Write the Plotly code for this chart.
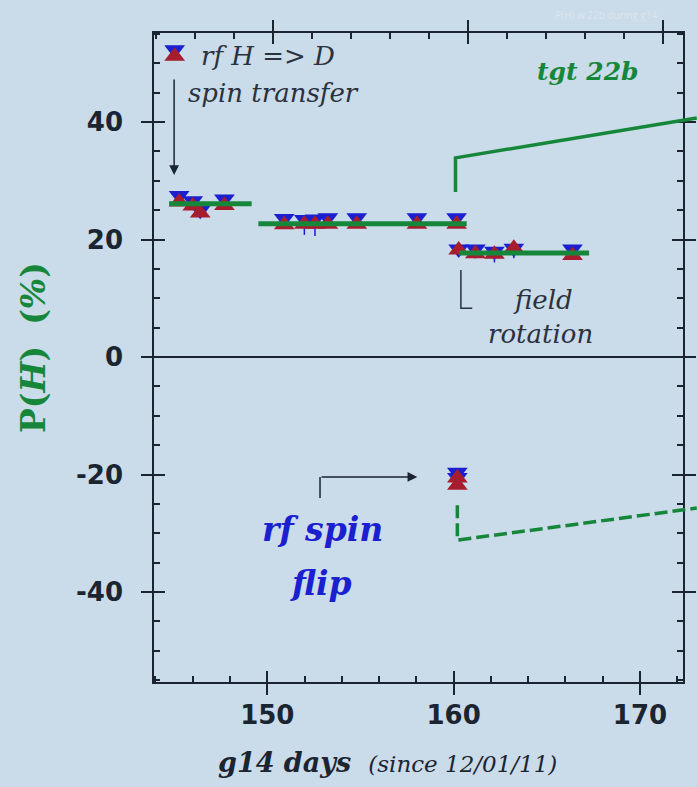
import plotly.graph_objects as go

# ---------------- data ----------------
days = [145.27, 146.00, 146.40, 147.70, 150.91, 151.99, 152.56, 153.25, 154.80,
        158.03, 160.16, 160.27, 161.17, 162.19, 163.23, 166.38, 160.20, 160.20]
p_red = [26.4, 25.7, 24.5, 25.8, 22.5, 22.6, 22.6, 22.6, 22.6,
         22.6, 22.6, 18.2, 17.6, 17.5, 18.5, 17.3, -20.6, -21.8]
p_blue = [27.5, 26.6, 25.0, 26.9, 23.6, 23.4, 23.5, 23.7, 23.7,
          23.7, 23.7, 18.4, 18.4, 18.0, 18.5, 18.4, -19.6, -20.5]
blue_err_minus = [0, 0, 0, 0, 0, 2.6, 2.9, 0, 0,
                  0, 0, 0, 1.6, 1.9, 1.7, 0, 0, 0]

# average levels (green)
mean_x0 = [144.73, 149.52, 160.30]
mean_x1 = [149.16, 160.70, 167.27]
mean_y = [26.1, 22.7, 17.7]

# legend sample symbol
legend_day = [145.03]
legend_red = [51.2]
legend_blue = [52.3]

# pointer lines to the next panel
ptr_solid_x = [160.1, 160.1, 173.05]
ptr_solid_y = [28.1, 33.9, 40.7]
ptr_dash_x = [160.2, 160.2, 173.05]
ptr_dash_y = [-25.2, -31.15, -25.7]

# annotation guide lines
field_bracket_x = [160.39, 160.39, 161.0]
field_bracket_y = [14.8, 8.3, 8.3]
flip_stem_x = [152.83, 152.83]
flip_stem_y = [-24.0, -20.4]

x_tickvals = [150, 160, 170]
x_ticktext = ["150", "160", "170"]
y_tickvals = [-40, -20, 0, 20, 40]
y_ticktext = ["-40", "-20", "0", "20", "40"]

X_RANGE = [143.92, 172.31]
Y_RANGE = [-55.3, 55.15]
TOP_RANGE = [-3.06, 10.51]

BG = "#cadbe9"
INK = "#1b2431"
GREY = "#2a323d"
GREEN = "#16873a"
RED = "#a61e2e"
BLUE = "#1a1fd0"
MSIZE = 18
SERIF = "DejaVu Serif"

fig = go.Figure()

# dummy traces so every decorative axis is drawn
for xa, ya in [("x2", "y"), ("x3", "y"), ("x4", "y"), ("x", "y2"), ("x", "y3"), ("x", "y4")]:
    fig.add_trace(go.Scatter(x=[None], y=[None], xaxis=xa, yaxis=ya,
                             showlegend=False, hoverinfo="skip"))

# blue markers (drawn first)
fig.add_trace(go.Scatter(
    x=days, y=p_blue, mode="markers",
    marker=dict(symbol="triangle-down", size=MSIZE, color=BLUE),
    error_y=dict(type="data", symmetric=False, array=[0] * len(days),
                 arrayminus=blue_err_minus, color=BLUE, thickness=1.5, width=0),
    showlegend=False))
# red markers
fig.add_trace(go.Scatter(
    x=days, y=p_red, mode="markers",
    marker=dict(symbol="triangle-up", size=MSIZE, color=RED),
    showlegend=False))

# legend sample
fig.add_trace(go.Scatter(x=legend_day, y=legend_blue, mode="markers",
                         marker=dict(symbol="triangle-down", size=MSIZE, color=BLUE),
                         showlegend=False))
fig.add_trace(go.Scatter(x=legend_day, y=legend_red, mode="markers",
                         marker=dict(symbol="triangle-up", size=MSIZE, color=RED),
                         showlegend=False))

# green average lines
for x0, x1, yv in zip(mean_x0, mean_x1, mean_y):
    fig.add_trace(go.Scatter(x=[x0, x1], y=[yv, yv], mode="lines",
                             line=dict(color=GREEN, width=5), showlegend=False))

# guide lines
fig.add_trace(go.Scatter(x=field_bracket_x, y=field_bracket_y, mode="lines",
                         line=dict(color=GREY, width=1.5), showlegend=False))
fig.add_trace(go.Scatter(x=flip_stem_x, y=flip_stem_y, mode="lines",
                         line=dict(color=INK, width=1.5), showlegend=False))


# pointer lines extend beyond the frame -> paper-referenced shapes
def fx(v):
    return (v - X_RANGE[0]) / (X_RANGE[1] - X_RANGE[0])


def fy(v):
    return (v - Y_RANGE[0]) / (Y_RANGE[1] - Y_RANGE[0])


def path(xs, ys):
    pts = [f"{fx(a):.5f},{fy(b):.5f}" for a, b in zip(xs, ys)]
    return "M" + " L".join(pts)


fig.add_shape(type="path", path=path(ptr_solid_x, ptr_solid_y), xref="paper", yref="paper",
              line=dict(color=GREEN, width=3.5))
fig.add_shape(type="path", path=path(ptr_dash_x, ptr_dash_y), xref="paper", yref="paper",
              line=dict(color=GREEN, width=3.5, dash="13px,5px"))

tickfont = dict(family="DejaVu Sans", size=26, color=INK, weight="bold")


def txt(x, y, text, size, color, xanchor="center", ref="x", **kw):
    fig.add_annotation(x=x, y=y, xref=ref, yref=("y" if ref == "x" else "paper"),
                       xanchor=xanchor, yanchor="middle", text=text, showarrow=False,
                       font=dict(family=SERIF, size=size, color=color), **kw)


txt(146.33, 51.3, "<i>rf H =&gt; D</i>", 26, GREY, xanchor="left")
txt(145.64, 44.9, "<i>spin transfer</i>", 26, GREY, xanchor="left")
fig.add_annotation(x=145.0, y=31.0, ax=145.0, ay=47.5, xref="x", yref="y",
                   axref="x", ayref="y", showarrow=True, arrowhead=2, arrowsize=1.3,
                   arrowwidth=1.5, arrowcolor=INK, text="")
txt(167.21, 48.6, "<b><i>tgt 22b</i></b>", 25, GREEN)
txt(164.77, 9.7, "<i>field</i>", 26, GREY)
txt(164.66, 3.9, "<i>rotation</i>", 26, GREY)
fig.add_annotation(x=158.05, y=-20.4, ax=152.83, ay=-20.4, xref="x", yref="y",
                   axref="x", ayref="y", showarrow=True, arrowhead=2, arrowsize=1.3,
                   arrowwidth=1.5, arrowcolor=INK, text="")
txt(152.95, -29.3, "<b><i>rf spin</i></b>", 33, BLUE)
txt(152.9, -38.6, "<b><i>flip</i></b>", 33, BLUE)
txt(0.4405, -0.1248,
    "<b><i>g14 days</i></b>&nbsp;&nbsp;<span style='font-size:23px'><i>(since 12/01/11)</i></span>",
    27, INK, ref="paper")
txt(-0.2287, 0.5146, "<b>P(<i>H</i>)</b>&nbsp;&nbsp;<b>(<i>%</i>)</b>", 33, GREEN,
    ref="paper", textangle=-90)
fig.add_annotation(x=0.856, y=1.0277, xref="paper", yref="paper", showarrow=False,
                   xanchor="center", yanchor="middle",
                   text="P(H) w 22b during g14",
                   font=dict(family="Open Sans", size=10, color="#dce6ef"))

axline = dict(showline=True, linecolor=INK, linewidth=1.5, showgrid=False, zeroline=False)

fig.update_layout(
    width=697, height=787,
    margin=dict(l=154, r=14, t=33, b=105, pad=0, autoexpand=False),
    paper_bgcolor=BG, plot_bgcolor=BG,
    showlegend=False,
    xaxis=dict(range=X_RANGE, type="linear", tickmode="array", tickvals=x_tickvals,
               ticktext=x_ticktext, ticks="outside",
               ticklen=11, tickwidth=1.5, tickcolor=INK, tickfont=tickfont,
               ticklabelstandoff=-2,
               minor=dict(ticks="inside", dtick=2, tick0=150, ticklen=6, tickwidth=1.5,
                          tickcolor=INK, showgrid=False),
               **axline),
    xaxis3=dict(range=X_RANGE, type="linear", overlaying="x", side="bottom", anchor="y",
                tick0=150, dtick=10, ticks="inside", ticklen=11, tickwidth=1.5,
                tickcolor=INK, showticklabels=False, showline=False, showgrid=False,
                zeroline=False),
    xaxis2=dict(range=TOP_RANGE, type="linear", overlaying="x", side="top", anchor="y",
                tick0=0, dtick=5, ticks="outside", ticklen=11, tickwidth=1.5, tickcolor=INK,
                showticklabels=False,
                minor=dict(ticks="inside", dtick=1, tick0=0, ticklen=6, tickwidth=1.5,
                           tickcolor=INK, showgrid=False),
                **axline),
    xaxis4=dict(range=TOP_RANGE, type="linear", overlaying="x", side="top", anchor="y",
                tick0=0, dtick=5, ticks="inside", ticklen=11, tickwidth=1.5, tickcolor=INK,
                showticklabels=False, showline=False, showgrid=False, zeroline=False),
    yaxis=dict(range=Y_RANGE, type="linear", tickmode="array", tickvals=y_tickvals,
               ticktext=y_ticktext, ticks="outside",
               ticklen=11, tickwidth=1.5, tickcolor=INK, tickfont=tickfont,
               ticklabelstandoff=13,
               minor=dict(ticks="inside", dtick=5, tick0=0, ticklen=6, tickwidth=1.5,
                          tickcolor=INK, showgrid=False),
               showline=True, linecolor=INK, linewidth=1.5, showgrid=False,
               zeroline=True, zerolinecolor=INK, zerolinewidth=1.5),
    yaxis2=dict(range=Y_RANGE, type="linear", overlaying="y", side="right", anchor="x",
                tick0=0, dtick=20, ticks="outside", ticklen=11, tickwidth=1.5, tickcolor=INK,
                showticklabels=False,
                minor=dict(ticks="inside", dtick=5, tick0=0, ticklen=6, tickwidth=1.5,
                           tickcolor=INK, showgrid=False),
                **axline),
    yaxis3=dict(range=Y_RANGE, type="linear", overlaying="y", side="left", anchor="x",
                tick0=0, dtick=20, ticks="inside", ticklen=11, tickwidth=1.5, tickcolor=INK,
                showticklabels=False, showline=False, showgrid=False, zeroline=False),
    yaxis4=dict(range=Y_RANGE, type="linear", overlaying="y", side="right", anchor="x",
                tick0=0, dtick=20, ticks="inside", ticklen=11, tickwidth=1.5, tickcolor=INK,
                showticklabels=False, showline=False, showgrid=False, zeroline=False),
)

fig.write_html("out.html")
